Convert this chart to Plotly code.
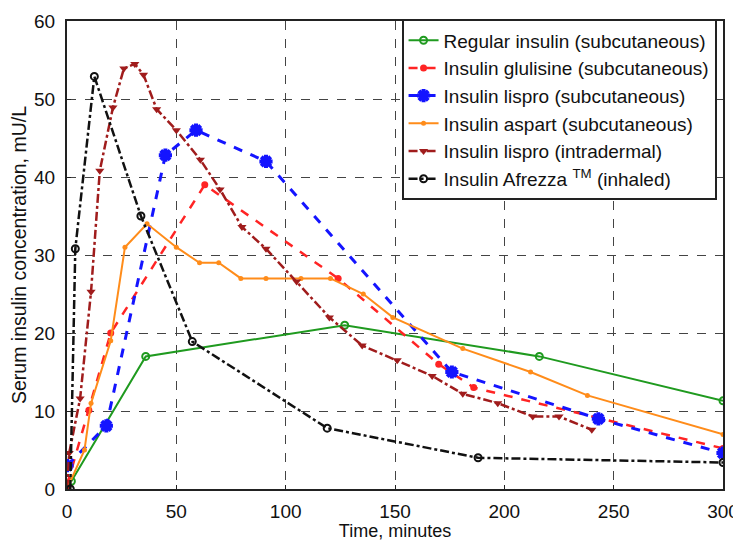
import plotly.graph_objects as go

# Regular insulin (subcutaneous)
reg_x = [2, 36, 127, 216, 300]
reg_y = [1, 17, 21, 17, 11.3]

# Insulin glulisine (subcutaneous)
glu_x = [0, 10, 20, 63, 124, 170, 186, 300]
glu_y = [0.5, 10.1, 20, 39, 27, 16, 13, 5.2]

# Insulin lispro (subcutaneous)
lis_x = [0, 18, 45, 59, 91, 176, 243, 300]
lis_y = [3.0, 8.1, 42.8, 46.0, 42.0, 15.0, 9.0, 4.6]

# Insulin aspart (subcutaneous)
asp_x = [0, 8, 11, 20, 26.5, 36.6, 50, 60.6, 69.4, 79.5, 91, 107, 120.5, 135.5, 149, 181, 212, 238, 300]
asp_y = [0, 5, 11, 19, 31, 34, 31, 29, 29, 27, 27, 27, 27, 25, 22, 18, 15, 12, 7]

# Insulin lispro (intradermal)
lid_x = [0, 1, 6, 11, 15, 21, 26, 31, 35, 41, 50, 61, 70, 80, 91, 105, 120, 135, 151, 167, 181, 197, 213, 225, 240]
lid_y = [0, 4.6, 11.6, 25.3, 40.8, 48.9, 53.9, 54.5, 53.1, 48.7, 46, 42.2, 38.4, 33.6, 30.8, 26.6, 22, 18.4, 16.5, 14.5, 12.2, 11, 9.3, 9.3, 7.6]

# Insulin Afrezza (inhaled)
afr_x = [1.5, 3.8, 12.5, 33.8, 57.3, 119, 188, 300]
afr_y = [0, 30.8, 52.9, 35, 18.9, 7.8, 4.0, 3.4]

x_ticks = [0, 50, 100, 150, 200, 250, 300]
y_ticks = [0, 10, 20, 30, 40, 50, 60]

FONT = "Liberation Sans, Arial, sans-serif"

fig = go.Figure()

fig.add_trace(go.Scatter(
    x=reg_x, y=reg_y, mode="lines+markers", name="Regular insulin (subcutaneous)",
    line=dict(color="#1f9a1f", width=2),
    marker=dict(symbol="circle-open", size=7, color="#1f9a1f", line=dict(width=2))))

fig.add_trace(go.Scatter(
    x=glu_x, y=glu_y, mode="lines+markers", name="Insulin glulisine (subcutaneous)",
    line=dict(color="#ff2424", width=2.5, dash="dash"),
    marker=dict(symbol="circle", size=7, color="#ff2424")))

fig.add_trace(go.Scatter(
    x=lis_x, y=lis_y, mode="lines+markers", name="Insulin lispro (subcutaneous)",
    line=dict(color="#1414ff", width=3, dash="dash"),
    marker=dict(symbol="asterisk-open", size=11, color="#1414ff", line=dict(width=4, color="#1414ff"))))

fig.add_trace(go.Scatter(
    x=asp_x, y=asp_y, mode="lines+markers", name="Insulin aspart (subcutaneous)",
    line=dict(color="#ff8c1a", width=2),
    marker=dict(symbol="circle", size=5, color="#ff8c1a")))

fig.add_trace(go.Scatter(
    x=lid_x, y=lid_y, mode="lines+markers", name="Insulin lispro (intradermal)",
    line=dict(color="#a01c1c", width=2.5, dash="dashdot"),
    marker=dict(symbol="triangle-down", size=8, color="#a01c1c")))

fig.add_trace(go.Scatter(
    x=afr_x, y=afr_y, mode="lines+markers", name="Insulin Afrezza <sup>TM</sup> (inhaled)",
    line=dict(color="#111111", width=2.5, dash="dashdot"),
    marker=dict(symbol="circle-open", size=7, color="#111111", line=dict(width=2))))

axis_common = dict(
    showgrid=True, gridcolor="#444444", griddash="dash", gridwidth=1,
    showline=True, linecolor="#222222", linewidth=2, mirror=True,
    ticks="inside", ticklen=4, tickcolor="#222222",
    zeroline=False, automargin=False, ticklabeloverflow="allow",
    tickfont=dict(family=FONT, size=19, color="#111111"),
)

fig.update_xaxes(
    range=[0, 300], tickvals=x_ticks, ticklabelstandoff=4,
    title=dict(text="Time, minutes", font=dict(family=FONT, size=18, color="#111111"), standoff=4),
    **axis_common)
fig.update_yaxes(
    range=[0, 60], tickvals=y_ticks, ticklabelstandoff=6,
    title=dict(text="Serum insulin concentration, mU/L", font=dict(family=FONT, size=19.5, color="#111111"), standoff=4),
    **axis_common)

# the page places the figure 8 px from its top-left corner
fig.update_layout(
    width=733, height=533,
    margin=dict(l=59, r=18, t=11, b=52),
    paper_bgcolor="white", plot_bgcolor="white",
    font=dict(family=FONT, color="#111111"),
    legend=dict(
        x=0.51, y=1.0035, xanchor="left", yanchor="top",
        bgcolor="white", bordercolor="#222222", borderwidth=2,
        font=dict(family=FONT, size=19, color="#111111"),
        tracegroupgap=0, itemwidth=30,
    ),
)

fig.write_html("out.html")
